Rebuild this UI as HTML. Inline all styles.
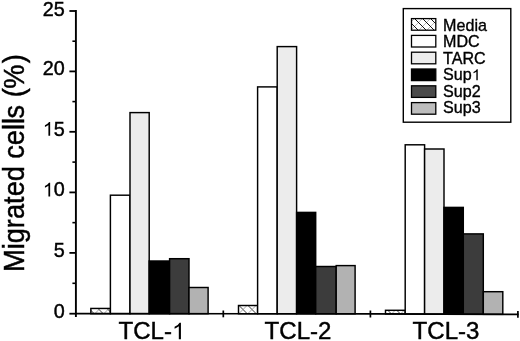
<!DOCTYPE html>
<html><head><meta charset="utf-8"><style>
html,body{margin:0;padding:0;background:#fff;}
body{width:520px;height:341px;overflow:hidden;}
svg{display:block;will-change:transform;font-family:"Liberation Sans",sans-serif;}
</style></head><body>
<svg width="520" height="341" viewBox="0 0 520 341">
<defs>
<pattern id="hatch" patternUnits="userSpaceOnUse" x="5.5" y="0" width="9" height="9">
<rect width="9" height="9" fill="#fff"/>
<path d="M-3,10 L10,-3 M4,12 L12,4 M-3,1 L1,-3" stroke="#999" stroke-width="0.9"/>
<path d="M-3,-3 L12,12 M6,-3 L12,3 M-3,6 L3,12" stroke="#222" stroke-width="0.9"/>
</pattern>
<pattern id="hatchL" patternUnits="userSpaceOnUse" x="4.0" y="0" width="8" height="8">
<rect width="8" height="8" fill="#fff"/>
<path d="M-2,7 L7,-2 M3,10 L10,3 M-2,-1 L-1,-2" stroke="#aaa" stroke-width="0.8"/>
<path d="M-2,-2 L10,10 M-2,6 L2,10 M6,-2 L10,2" stroke="#111" stroke-width="1.0"/>
</pattern>
</defs>
<rect x="90.85" y="308.45" width="19.55" height="5.21" fill="url(#hatch)" stroke="#000" stroke-width="1.45"/>
<rect x="110.40" y="195.20" width="19.60" height="118.47" fill="#ffffff" stroke="#000" stroke-width="1.45"/>
<rect x="130.00" y="112.60" width="19.20" height="201.08" fill="#ececec" stroke="#000" stroke-width="1.45"/>
<rect x="149.20" y="261.00" width="20.40" height="52.69" fill="#000000" stroke="#000" stroke-width="1.45"/>
<rect x="169.60" y="258.70" width="19.40" height="55.00" fill="#3c3c3c" stroke="#000" stroke-width="1.45"/>
<rect x="189.00" y="287.50" width="19.10" height="26.21" fill="#b2b2b2" stroke="#000" stroke-width="1.45"/>
<rect x="238.50" y="305.50" width="19.10" height="8.24" fill="url(#hatch)" stroke="#000" stroke-width="1.45"/>
<rect x="257.60" y="86.90" width="19.60" height="226.85" fill="#ffffff" stroke="#000" stroke-width="1.45"/>
<rect x="277.20" y="46.60" width="19.40" height="267.16" fill="#ececec" stroke="#000" stroke-width="1.45"/>
<rect x="296.60" y="212.40" width="19.10" height="101.37" fill="#000000" stroke="#000" stroke-width="1.45"/>
<rect x="315.70" y="266.50" width="20.50" height="47.28" fill="#3c3c3c" stroke="#000" stroke-width="1.45"/>
<rect x="336.20" y="265.60" width="18.90" height="48.19" fill="#b2b2b2" stroke="#000" stroke-width="1.45"/>
<rect x="385.50" y="310.30" width="19.70" height="3.61" fill="url(#hatch)" stroke="#000" stroke-width="1.45"/>
<rect x="405.20" y="144.80" width="19.40" height="169.20" fill="#ffffff" stroke="#000" stroke-width="1.45"/>
<rect x="424.60" y="149.00" width="19.40" height="165.08" fill="#ececec" stroke="#000" stroke-width="1.45"/>
<rect x="444.00" y="207.40" width="19.30" height="106.77" fill="#000000" stroke="#000" stroke-width="1.45"/>
<rect x="463.30" y="233.90" width="20.00" height="80.35" fill="#3c3c3c" stroke="#000" stroke-width="1.45"/>
<rect x="483.30" y="291.70" width="19.50" height="22.64" fill="#b2b2b2" stroke="#000" stroke-width="1.45"/>
<line x1="75.9" y1="10.1" x2="75.9" y2="316.9" stroke="#000" stroke-width="1.9"/>
<polyline points="75.0,313.65 370,313.8 518.6,314.45" fill="none" stroke="#000" stroke-width="1.7"/>
<line x1="69.4" y1="313.70" x2="75.9" y2="313.70" stroke="#000" stroke-width="1.8"/>
<line x1="69.4" y1="252.90" x2="75.9" y2="252.90" stroke="#000" stroke-width="1.8"/>
<line x1="69.4" y1="192.40" x2="75.9" y2="192.40" stroke="#000" stroke-width="1.8"/>
<line x1="69.4" y1="131.80" x2="75.9" y2="131.80" stroke="#000" stroke-width="1.8"/>
<line x1="69.4" y1="71.40" x2="75.9" y2="71.40" stroke="#000" stroke-width="1.8"/>
<line x1="69.4" y1="11.00" x2="75.9" y2="11.00" stroke="#000" stroke-width="1.8"/>
<line x1="72.4" y1="283.30" x2="75.9" y2="283.30" stroke="#000" stroke-width="1.6"/>
<line x1="72.4" y1="222.65" x2="75.9" y2="222.65" stroke="#000" stroke-width="1.6"/>
<line x1="72.4" y1="162.10" x2="75.9" y2="162.10" stroke="#000" stroke-width="1.6"/>
<line x1="72.4" y1="101.60" x2="75.9" y2="101.60" stroke="#000" stroke-width="1.6"/>
<line x1="72.4" y1="41.20" x2="75.9" y2="41.20" stroke="#000" stroke-width="1.6"/>
<line x1="223.3" y1="310.5" x2="223.3" y2="317.3" stroke="#000" stroke-width="1.7"/>
<line x1="370.4" y1="310.5" x2="370.4" y2="317.5" stroke="#000" stroke-width="1.7"/>
<line x1="517.9" y1="311.0" x2="517.9" y2="317.8" stroke="#000" stroke-width="1.7"/>
<g fill="#000" stroke="#000" stroke-width="0.45">
<g transform="translate(64.80,317.75) scale(0.9900,1)"><text x="-11.12" y="0" font-size="20.0">0</text></g>
<g transform="translate(64.80,256.80) scale(0.9900,1)"><text x="-11.12" y="0" font-size="20.0">5</text></g>
<g transform="translate(64.80,196.40) scale(0.9900,1)"><path d="M763,0L583,0L583,1098Q450,980 223,894L223,1060Q540,1200 646,1409L763,1409Z" transform="translate(-22.25,0) scale(0.00977,-0.00977)"/><text x="-11.12" y="0" font-size="20.0">0</text></g>
<g transform="translate(64.80,135.70) scale(0.9900,1)"><path d="M763,0L583,0L583,1098Q450,980 223,894L223,1060Q540,1200 646,1409L763,1409Z" transform="translate(-22.25,0) scale(0.00977,-0.00977)"/><text x="-11.12" y="0" font-size="20.0">5</text></g>
<g transform="translate(64.80,75.30) scale(0.9900,1)"><text x="-22.25" y="0" font-size="20.0">20</text></g>
<g transform="translate(64.80,15.70) scale(0.9900,1)"><text x="-22.25" y="0" font-size="20.0">25</text></g>
<g transform="translate(118.50,339.35) scale(0.9900,1)"><text x="0.00" y="0" font-size="24.3">TCL-</text><path d="M763,0L583,0L583,1098Q450,980 223,894L223,1060Q540,1200 646,1409L763,1409Z" transform="translate(54.00,0) scale(0.01187,-0.01187)"/></g>
<g transform="translate(264.60,339.35) scale(0.9900,1)"><text x="0.00" y="0" font-size="24.3">TCL-2</text></g>
<g transform="translate(412.60,339.35) scale(0.9900,1)"><text x="0.00" y="0" font-size="24.3">TCL-3</text></g>
<text transform="translate(23.7,272) rotate(-90) scale(0.9386,1)" font-size="29" dx="0.00 0.00 0.00 0.00 0.00 0.00 0.00 0.00 0.00 -0.32 0.00 0.00 0.00 -0.43 0.75 -0.85 -0.53 1.39">Migrated cells (%)</text>
</g>
<g fill="#000" stroke="#000" stroke-width="0.35">
<rect x="403.3" y="8.6" width="107.5" height="113.6" fill="#fff" stroke="#000" stroke-width="1.4"/>
<rect x="411.5" y="18.60" width="24.3" height="11.6" fill="url(#hatchL)" stroke="#000" stroke-width="1.3"/>
<text x="443.1" y="30.60" font-size="16.1">Media</text>
<rect x="411.5" y="35.40" width="24.3" height="11.6" fill="#ffffff" stroke="#000" stroke-width="1.3"/>
<text x="443.1" y="47.16" font-size="16.1">MDC</text>
<rect x="411.5" y="52.20" width="24.3" height="11.6" fill="#ececec" stroke="#000" stroke-width="1.3"/>
<text x="443.1" y="63.72" font-size="16.1">TARC</text>
<rect x="411.5" y="69.00" width="24.3" height="11.6" fill="#000000" stroke="#000" stroke-width="1.3"/>
<g transform="translate(443.10,80.28) scale(1.0000,1)"><text x="0.00" y="0" font-size="16.1">Sup</text><path d="M763,0L583,0L583,1098Q450,980 223,894L223,1060Q540,1200 646,1409L763,1409Z" transform="translate(28.65,0) scale(0.00786,-0.00786)"/></g>
<rect x="411.5" y="85.80" width="24.3" height="11.6" fill="#4a4a4a" stroke="#000" stroke-width="1.3"/>
<g transform="translate(443.10,96.84) scale(1.0000,1)"><text x="0.00" y="0" font-size="16.1">Sup2</text></g>
<rect x="411.5" y="102.60" width="24.3" height="11.6" fill="#bdbdbd" stroke="#000" stroke-width="1.3"/>
<g transform="translate(443.10,113.40) scale(1.0000,1)"><text x="0.00" y="0" font-size="16.1">Sup3</text></g>
</g>
</svg>
</body></html>
